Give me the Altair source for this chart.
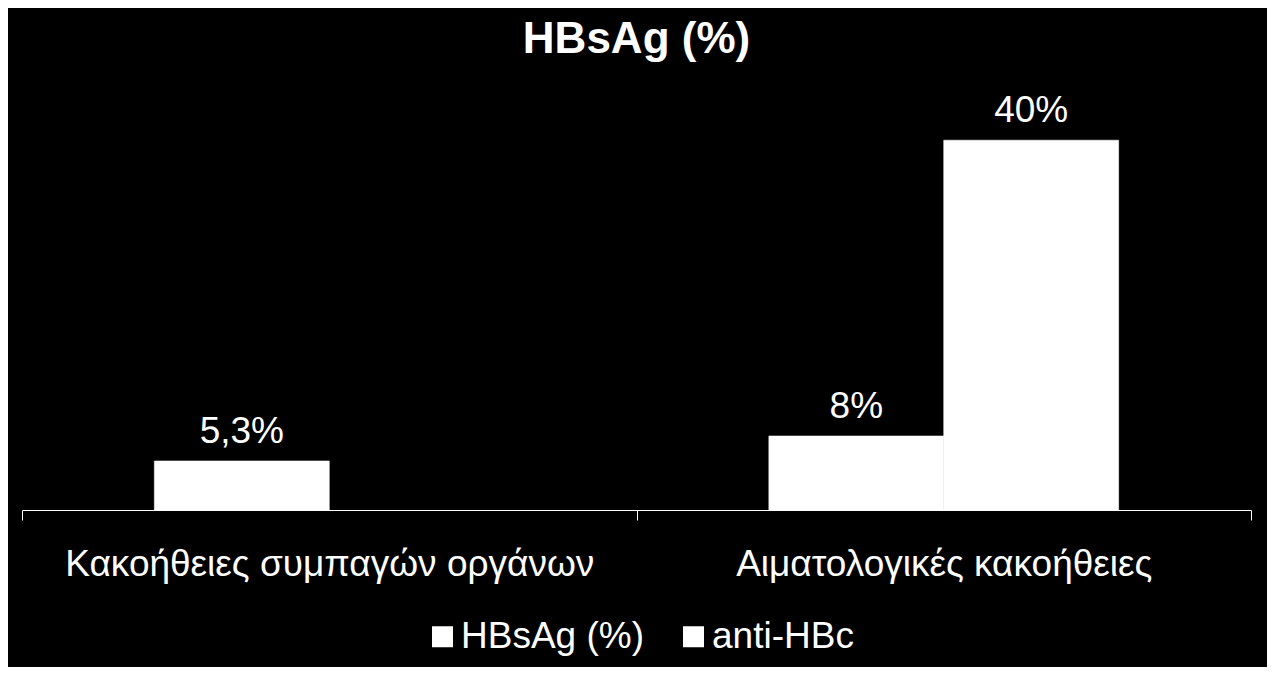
import altair as alt
import pandas as pd

FONT = "Liberation Sans"

categories = ["Κακοήθειες συμπαγών οργάνων", "Αιματολογικές κακοήθειες"]
series_names = ["HBsAg (%)", "anti-HBc"]
bar_category = [categories[0], categories[1], categories[1]]
bar_series = ["HBsAg (%)", "HBsAg (%)", "anti-HBc"]
bar_values = [5.3, 8, 40]
bar_labels = ["5,3%", "8%", "40%"]

df = pd.DataFrame({
    "category": bar_category,
    "series": bar_series,
    "value": bar_values,
    "label": bar_labels,
})

x_enc = alt.X(
    "category:N", sort=categories, title=None,
    scale=alt.Scale(paddingInner=0, paddingOuter=0),
    axis=alt.Axis(
        labelAngle=0, labelFontSize=37, labelColor="white", labelFont=FONT,
        domainColor="white", domainWidth=1, tickColor="white", tickWidth=1,
        tickSize=10, tickBand="extent", labelPadding=26, grid=False,
        labelLimit=800,
    ),
)
xoff = alt.XOffset(
    "series:N", sort=series_names,
    scale=alt.Scale(domain=series_names, paddingInner=0, paddingOuter=0.757),
)
y_enc = alt.Y("value:Q", scale=alt.Scale(domain=[0, 45]), axis=None)

bars = alt.Chart(df).mark_bar(stroke="white", strokeWidth=0.6).encode(
    x=x_enc,
    xOffset=xoff,
    y=y_enc,
    color=alt.Color(
        "series:N",
        scale=alt.Scale(domain=series_names, range=["white", "white"]),
        legend=alt.Legend(
            title=None, orient="none", legendX=402, legendY=524,
            direction="horizontal", symbolType="square", symbolSize=441,
            symbolStrokeWidth=0, symbolFillColor="white", padding=0,
            labelFontSize=37, labelColor="white", labelFont=FONT,
            labelOffset=0, columnPadding=31, labelLimit=400,
        ),
    ),
)

labels = alt.Chart(df).mark_text(
    dy=-18, baseline="alphabetic", fontSize=37, color="white", font=FONT
).encode(
    x=x_enc,
    xOffset=xoff,
    y=y_enc,
    text="label:N",
)

chart = alt.layer(bars, labels).properties(
    width=1229,
    height=416,
    background="black",
    padding={"left": 14, "top": 86, "right": 16, "bottom": 157},
    autosize=alt.AutoSizeParams(type="none"),
    title=alt.TitleParams(
        "HBsAg (%)", fontSize=44, fontWeight="bold", color="white", font=FONT,
        anchor="middle", baseline="alphabetic", offset=-5,
    ),
).configure_view(stroke=None)

chart.save("out.html", embed_options={"renderer": "svg", "actions": False})
